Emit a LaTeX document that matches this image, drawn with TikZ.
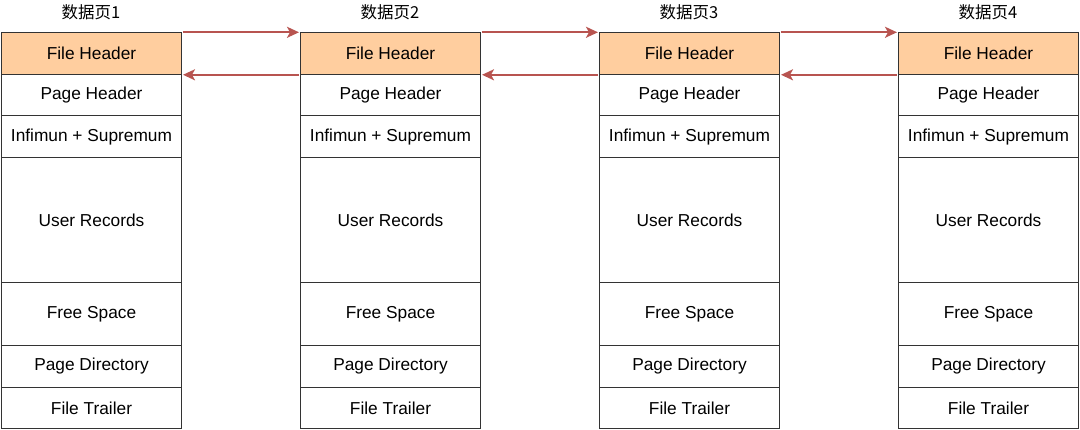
\documentclass[tikz,border=0pt]{standalone}
\usepackage{fontspec}
\setmainfont{Liberation Sans}
\newfontfamily\cjk{Noto Sans CJK SC}
\usetikzlibrary{arrows.meta}
\definecolor{hdr}{HTML}{FFCE9F}
\definecolor{arr}{HTML}{B85450}
\definecolor{bd}{HTML}{333333}
\begin{document}
\begin{tikzpicture}[x=1pt,y=1pt,
  cell/.style={draw=bd, line width=1pt, minimum width=180pt, inner sep=0pt, anchor=north west, font=\fontsize{17.3}{19}\selectfont, text=black},
  title/.style={font=\cjk\fontsize{16.5}{18}\selectfont, text=black},
  link/.style={draw=arr, line width=2pt, -{Stealth[length=12pt,width=11pt,inset=3pt]}, shorten <=1pt, shorten >=1pt}]
\useasboundingbox (0,0) rectangle (1080,-430);
\foreach \i in {1,2,3,4}{
  \pgfmathsetmacro{\xo}{1+299*(\i-1)}
  \node[title] (t\i) at (\xo+90,-12) {数据页\i};
  \node[cell, fill=hdr, minimum height=41.5pt] (c\i r1) at (\xo,-32.3) {File Header};
  \node[cell, minimum height=41.5pt] (c\i r2) at (\xo,-73.8) {Page Header};
  \node[cell, minimum height=41.5pt] (c\i r3) at (\xo,-115.3) {Infimun + Supremum};
  \node[cell, minimum height=125.5pt] (c\i r4) at (\xo,-156.8) {User Records};
  \node[cell, minimum height=62.5pt] (c\i r5) at (\xo,-282.3) {Free Space};
  \node[cell, minimum height=42pt] (c\i r6) at (\xo,-344.8) {Page Directory};
  \node[cell, minimum height=41.5pt] (c\i r7) at (\xo,-386.8) {File Trailer};
}
\foreach \a/\b in {1/2,2/3,3/4}{
  \draw[link] (c\a r1.north east) -- (c\b r1.north west);
  \draw[link] (c\b r1.south west) -- (c\a r1.south east);
}
\end{tikzpicture}
\end{document}
